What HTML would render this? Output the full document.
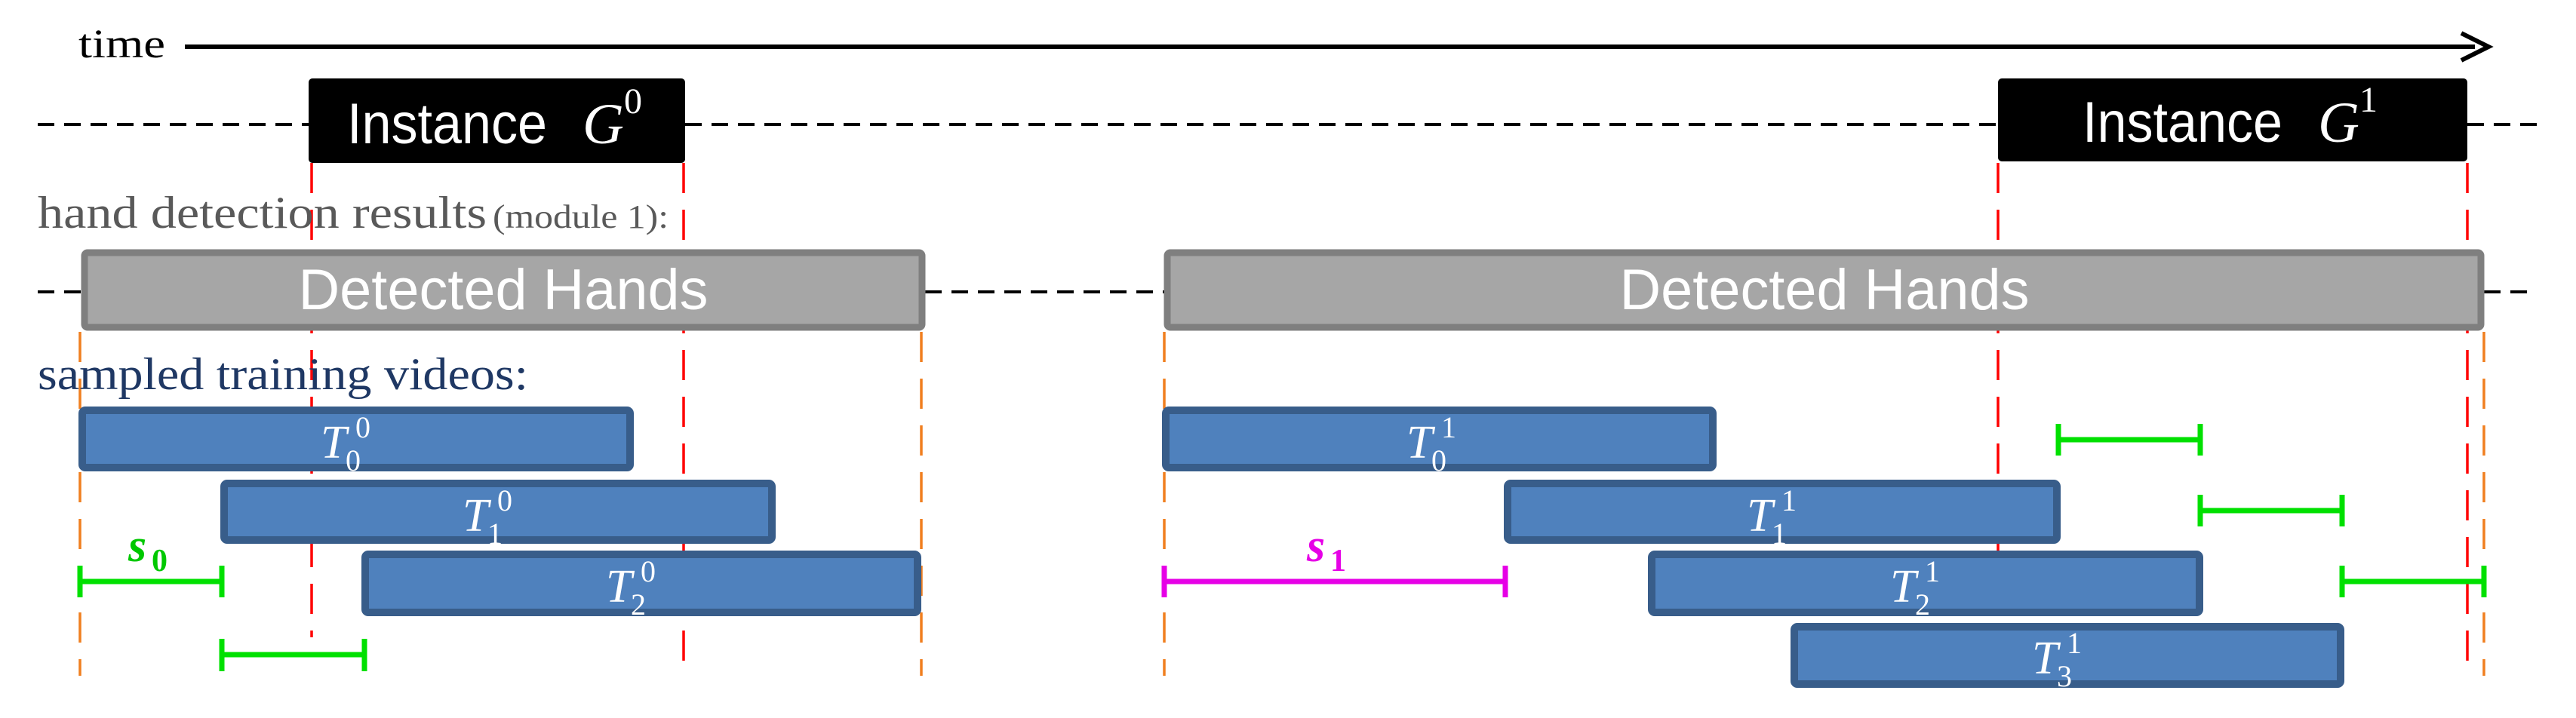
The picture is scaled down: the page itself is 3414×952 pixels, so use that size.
<!DOCTYPE html>
<html><head><meta charset="utf-8"><style>
html,body{margin:0;padding:0;background:#fff;}
svg{display:block;}
.ser{font-family:"Liberation Serif",serif;}
.san{font-family:"Liberation Sans",sans-serif;}
</style></head><body>
<svg width="3414" height="952" viewBox="0 0 3414 952" xmlns="http://www.w3.org/2000/svg">
<rect width="3414" height="952" fill="#fff"/>
<!-- time axis -->
<text x="104" y="76" class="ser" font-size="54" fill="#000" textLength="115" lengthAdjust="spacingAndGlyphs">time</text>
<line x1="245" y1="62" x2="3280" y2="62" stroke="#000" stroke-width="6"/>
<path d="M3262 44 L3298 62 L3262 80" fill="none" stroke="#000" stroke-width="6"/>

<!-- dashed lines -->
<g stroke="#000" stroke-width="4" stroke-dasharray="22 13">
<line x1="50" y1="165" x2="409" y2="165"/>
<line x1="908" y1="165" x2="2648" y2="165"/>
<line x1="3270" y1="165" x2="3362" y2="165"/>
<line x1="50" y1="387" x2="108" y2="387"/>
<line x1="1226" y1="387" x2="1543" y2="387"/>
<line x1="3292" y1="387" x2="3362" y2="387"/>
</g>

<!-- red dashed verticals -->
<g stroke="#ff0000" stroke-width="3.5" stroke-dasharray="40 22">
<line x1="413" y1="216" x2="413" y2="845"/>
<line x1="906" y1="216" x2="906" y2="896"/>
<line x1="2648" y1="216" x2="2648" y2="896"/>
<line x1="3270" y1="216" x2="3270" y2="896"/>
</g>
<!-- orange dashed verticals -->
<g stroke="#f07f1f" stroke-width="3.5" stroke-dasharray="40 22">
<line x1="106" y1="440" x2="106" y2="896"/>
<line x1="1221" y1="440" x2="1221" y2="896"/>
<line x1="1543" y1="440" x2="1543" y2="896"/>
<line x1="3292" y1="440" x2="3292" y2="896"/>
</g>

<!-- instance boxes -->
<rect x="409" y="104" width="499" height="112" rx="5" fill="#000"/>
<text x="460" y="190" class="san" font-size="76" fill="#fff" textLength="265" lengthAdjust="spacingAndGlyphs">Instance</text>
<text x="772" y="190" class="ser" font-size="76" font-style="italic" fill="#fff">G</text>
<text x="827" y="150" class="ser" font-size="48" fill="#fff">0</text>
<rect x="2648" y="104" width="622" height="110" rx="5" fill="#000"/>
<text x="2760" y="188" class="san" font-size="76" fill="#fff" textLength="265" lengthAdjust="spacingAndGlyphs">Instance</text>
<text x="3072" y="188" class="ser" font-size="76" font-style="italic" fill="#fff">G</text>
<text x="3127" y="148" class="ser" font-size="48" fill="#fff">1</text>

<!-- labels -->
<text x="50" y="302" class="ser" font-size="60" fill="#595959" textLength="595" lengthAdjust="spacingAndGlyphs">hand detection results</text>
<text x="653" y="302" class="ser" font-size="44" fill="#595959" textLength="233" lengthAdjust="spacingAndGlyphs">(module 1):</text>
<text x="50" y="516" class="ser" font-size="60" fill="#1f3864" textLength="650" lengthAdjust="spacingAndGlyphs">sampled training videos:</text>

<!-- detected hands boxes -->
<rect x="112" y="335" width="1110" height="99" rx="4" fill="#a6a6a6" stroke="#7f7f7f" stroke-width="9"/>
<text x="667" y="410" class="san" font-size="76" fill="#fff" text-anchor="middle" textLength="543" lengthAdjust="spacingAndGlyphs">Detected Hands</text>
<rect x="1547" y="335" width="1741" height="99" rx="4" fill="#a6a6a6" stroke="#7f7f7f" stroke-width="9"/>
<text x="2418" y="410" class="san" font-size="76" fill="#fff" text-anchor="middle" textLength="543" lengthAdjust="spacingAndGlyphs">Detected Hands</text>

<!-- T boxes -->
<g fill="#4f81bd" stroke="#385d8a" stroke-width="10">
<rect x="109" y="544" width="726" height="76" rx="4"/>
<rect x="297" y="641" width="726" height="75" rx="4"/>
<rect x="484" y="735" width="732" height="77" rx="4"/>
<rect x="1545" y="544" width="725" height="76" rx="4"/>
<rect x="1998" y="641" width="728" height="75" rx="4"/>
<rect x="2189" y="735" width="726" height="77" rx="4"/>
<rect x="2378" y="831" width="724" height="76" rx="4"/>
</g>
<g class="ser" fill="#fff">
<text x="425" y="607" font-size="62" font-style="italic">T</text><text x="471" y="580" font-size="40">0</text><text x="458" y="624" font-size="40">0</text>
<text x="613" y="704" font-size="62" font-style="italic">T</text><text x="659" y="677" font-size="40">0</text><text x="646" y="721" font-size="40">1</text>
<text x="803" y="798" font-size="62" font-style="italic">T</text><text x="849" y="771" font-size="40">0</text><text x="836" y="815" font-size="40">2</text>
<text x="1864" y="607" font-size="62" font-style="italic">T</text><text x="1910" y="580" font-size="40">1</text><text x="1897" y="624" font-size="40">0</text>
<text x="2315" y="704" font-size="62" font-style="italic">T</text><text x="2361" y="677" font-size="40">1</text><text x="2348" y="721" font-size="40">1</text>
<text x="2505" y="798" font-size="62" font-style="italic">T</text><text x="2551" y="771" font-size="40">1</text><text x="2538" y="815" font-size="40">2</text>
<text x="2693" y="893" font-size="62" font-style="italic">T</text><text x="2739" y="866" font-size="40">1</text><text x="2726" y="910" font-size="40">3</text>
</g>

<!-- green intervals -->
<g stroke="#00e000" stroke-width="7" fill="none">
<path d="M106 771 H294 M106 750 V792 M294 750 V792"/>
<path d="M294 868 H483 M294 847 V890 M483 847 V890"/>
<path d="M2728 583 H2916 M2728 562 V604 M2916 562 V604"/>
<path d="M2916 677 H3104 M2916 656 V698 M3104 656 V698"/>
<path d="M3104 771 H3292 M3104 750 V792 M3292 750 V792"/>
</g>
<g stroke="#e600e6" stroke-width="7" fill="none">
<path d="M1543 771 H1995 M1543 750 V792 M1995 750 V792"/>
</g>
<text x="170" y="744" class="ser" font-size="62" font-weight="bold" font-style="italic" fill="#00c800">s</text>
<text x="201" y="757" class="ser" font-size="42" font-weight="bold" fill="#00c800">0</text>
<text x="1732" y="744" class="ser" font-size="62" font-weight="bold" font-style="italic" fill="#e600e6">s</text>
<text x="1763" y="757" class="ser" font-size="42" font-weight="bold" fill="#e600e6">1</text>
</svg>
</body></html>
